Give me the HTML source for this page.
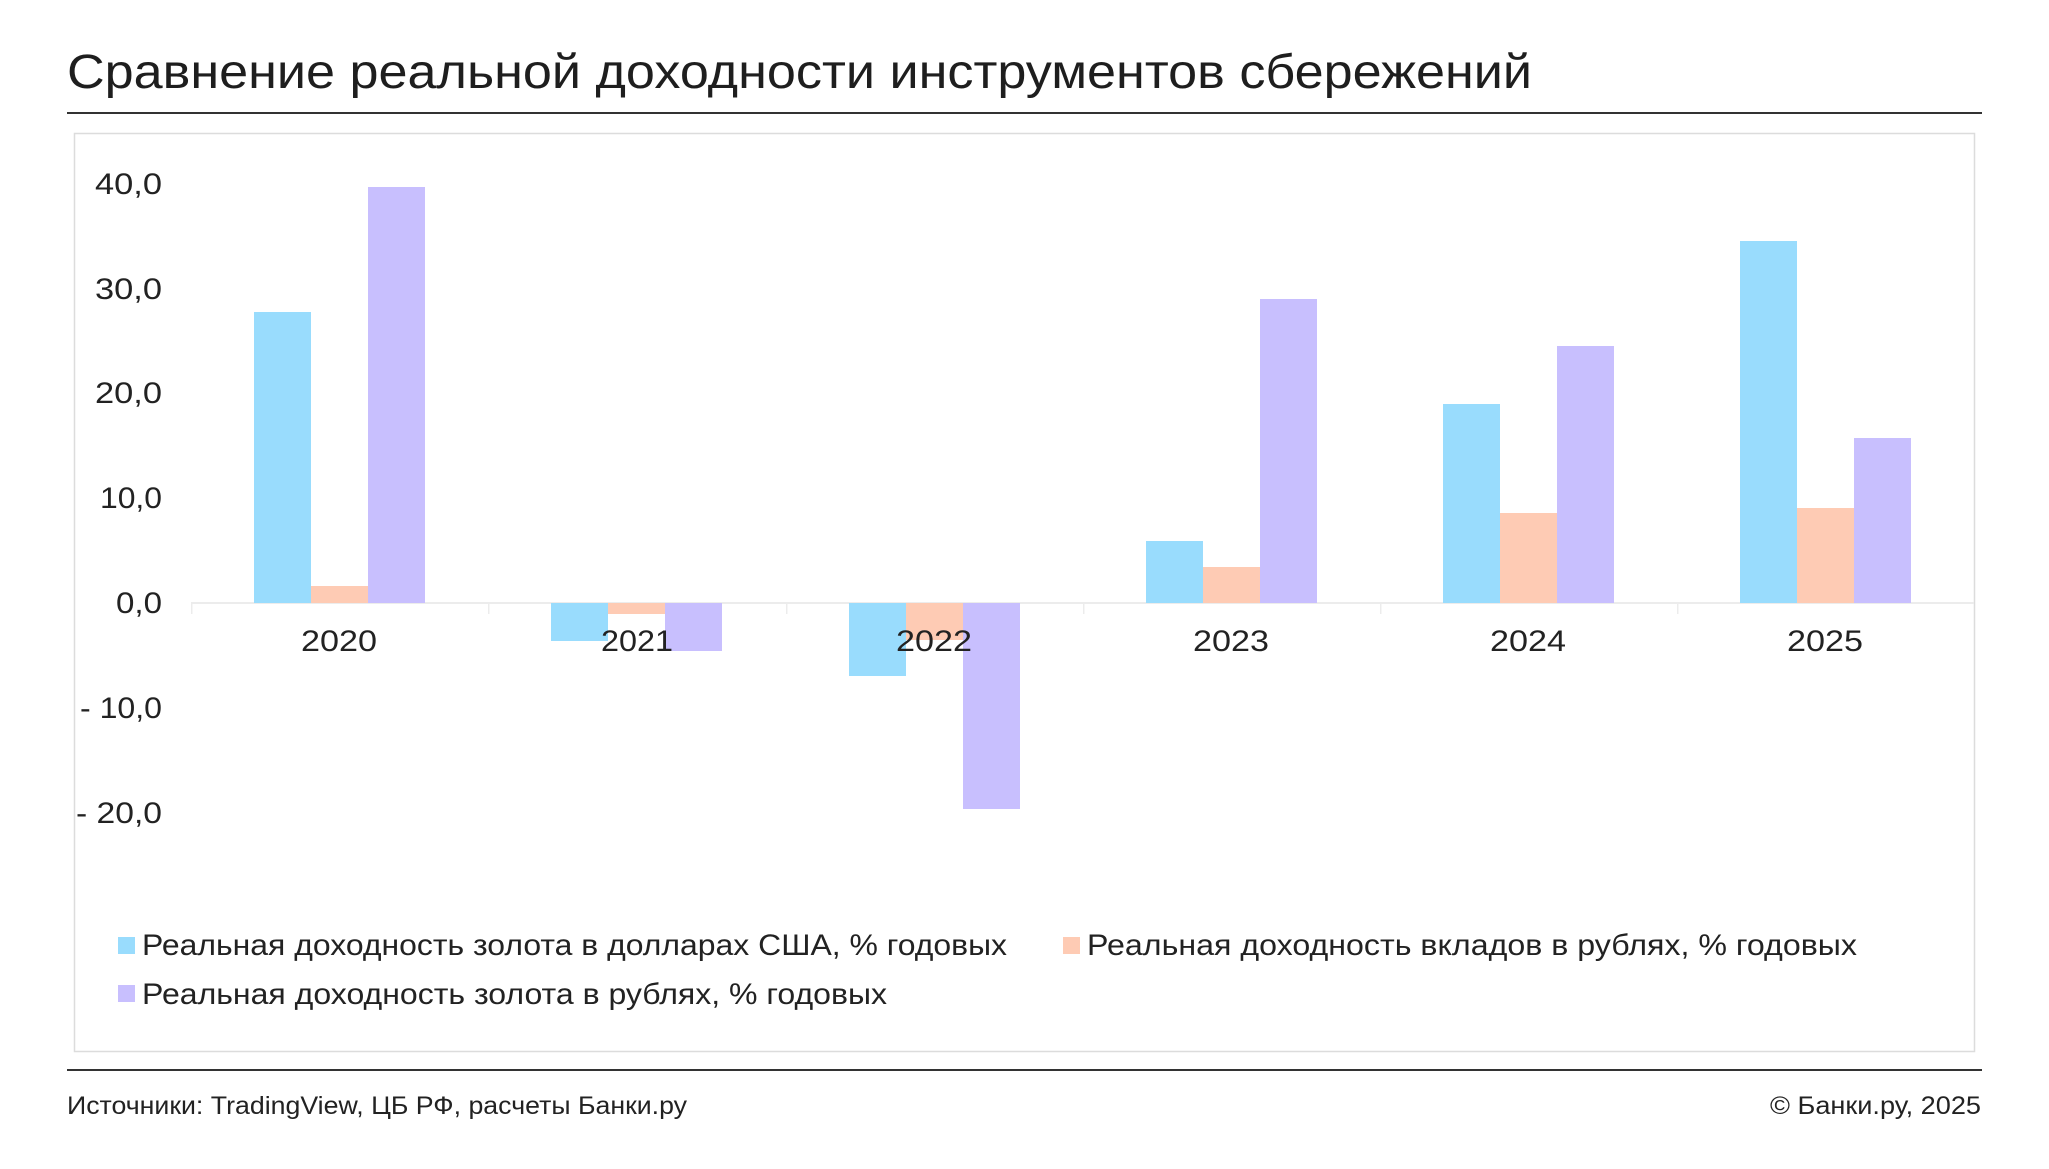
<!DOCTYPE html>
<html><head><meta charset="utf-8"><style>
html,body{margin:0;padding:0;background:#fff;}
svg{display:block;font-family:"Liberation Sans",sans-serif;}
</style></head><body>
<svg width="2049" height="1169" viewBox="0 0 2049 1169" xmlns="http://www.w3.org/2000/svg">
<rect width="2049" height="1169" fill="#fff"/>
<text x="67" y="88" font-size="48" fill="#1e1e1e" textLength="1465" lengthAdjust="spacingAndGlyphs">Сравнение реальной доходности инструментов сбережений</text>
<rect x="67" y="112" width="1915" height="2" fill="#333"/>
<rect x="74.5" y="133.5" width="1900" height="918" fill="none" stroke="#dcdcdc" stroke-width="1.5"/>
<g font-size="30" fill="#222" text-anchor="end">
<text x="162" y="194" textLength="67" lengthAdjust="spacingAndGlyphs">40,0</text>
<text x="162" y="299" textLength="67" lengthAdjust="spacingAndGlyphs">30,0</text>
<text x="162" y="403" textLength="67" lengthAdjust="spacingAndGlyphs">20,0</text>
<text x="162" y="508" textLength="62" lengthAdjust="spacingAndGlyphs">10,0</text>
<text x="162" y="613" textLength="46" lengthAdjust="spacingAndGlyphs">0,0</text>
<text x="162" y="718" textLength="82" lengthAdjust="spacingAndGlyphs">- 10,0</text>
<text x="162" y="823" textLength="86" lengthAdjust="spacingAndGlyphs">- 20,0</text>
</g>
<rect x="191" y="602" width="1783" height="2" fill="#ececec"/>
<g fill="#ececec">
<rect x="191" y="602" width="1.5" height="12"/><rect x="488" y="602" width="1.5" height="12"/><rect x="786" y="602" width="1.5" height="12"/><rect x="1083" y="602" width="1.5" height="12"/><rect x="1380" y="602" width="1.5" height="12"/><rect x="1677" y="602" width="1.5" height="12"/>
</g>
<g>
<rect x="254" y="312" width="57" height="291" fill="#99dcfd"/>
<rect x="311" y="586" width="57" height="17" fill="#fecbb4"/>
<rect x="368" y="187" width="57" height="416" fill="#c8bffe"/>
<rect x="551" y="603" width="57" height="38" fill="#99dcfd"/>
<rect x="608" y="603" width="57" height="11" fill="#fecbb4"/>
<rect x="665" y="603" width="57" height="48" fill="#c8bffe"/>
<rect x="849" y="603" width="57" height="73" fill="#99dcfd"/>
<rect x="906" y="603" width="57" height="37" fill="#fecbb4"/>
<rect x="963" y="603" width="57" height="206" fill="#c8bffe"/>
<rect x="1146" y="541" width="57" height="62" fill="#99dcfd"/>
<rect x="1203" y="567" width="57" height="36" fill="#fecbb4"/>
<rect x="1260" y="299" width="57" height="304" fill="#c8bffe"/>
<rect x="1443" y="404" width="57" height="199" fill="#99dcfd"/>
<rect x="1500" y="513" width="57" height="90" fill="#fecbb4"/>
<rect x="1557" y="346" width="57" height="257" fill="#c8bffe"/>
<rect x="1740" y="241" width="57" height="362" fill="#99dcfd"/>
<rect x="1797" y="508" width="57" height="95" fill="#fecbb4"/>
<rect x="1854" y="438" width="57" height="165" fill="#c8bffe"/>
</g>
<g font-size="30" fill="#222" text-anchor="middle">
<text x="339" y="651" textLength="76" lengthAdjust="spacingAndGlyphs">2020</text>
<text x="637" y="651" textLength="72" lengthAdjust="spacingAndGlyphs">2021</text>
<text x="934" y="651" textLength="76" lengthAdjust="spacingAndGlyphs">2022</text>
<text x="1231" y="651" textLength="76" lengthAdjust="spacingAndGlyphs">2023</text>
<text x="1528" y="651" textLength="76" lengthAdjust="spacingAndGlyphs">2024</text>
<text x="1825" y="651" textLength="76" lengthAdjust="spacingAndGlyphs">2025</text>
</g>
<rect x="118" y="937" width="17" height="17" fill="#99dcfd"/>
<text x="142" y="955" font-size="30" fill="#222" textLength="865" lengthAdjust="spacingAndGlyphs">Реальная доходность золота в долларах США, % годовых</text>
<rect x="1063" y="937" width="17" height="17" fill="#fecbb4"/>
<text x="1087" y="955" font-size="30" fill="#222" textLength="770" lengthAdjust="spacingAndGlyphs">Реальная доходность вкладов в рублях, % годовых</text>
<rect x="118" y="985" width="17" height="17" fill="#c8bffe"/>
<text x="142" y="1004" font-size="30" fill="#222" textLength="745" lengthAdjust="spacingAndGlyphs">Реальная доходность золота в рублях, % годовых</text>
<rect x="67" y="1069" width="1915" height="2" fill="#333"/>
<text x="67" y="1114" font-size="25" fill="#222" textLength="620" lengthAdjust="spacingAndGlyphs">Источники: TradingView, ЦБ РФ, расчеты Банки.ру</text>
<text x="1981" y="1114" font-size="25" fill="#222" text-anchor="end" textLength="211" lengthAdjust="spacingAndGlyphs">© Банки.ру, 2025</text>
</svg>
</body></html>
